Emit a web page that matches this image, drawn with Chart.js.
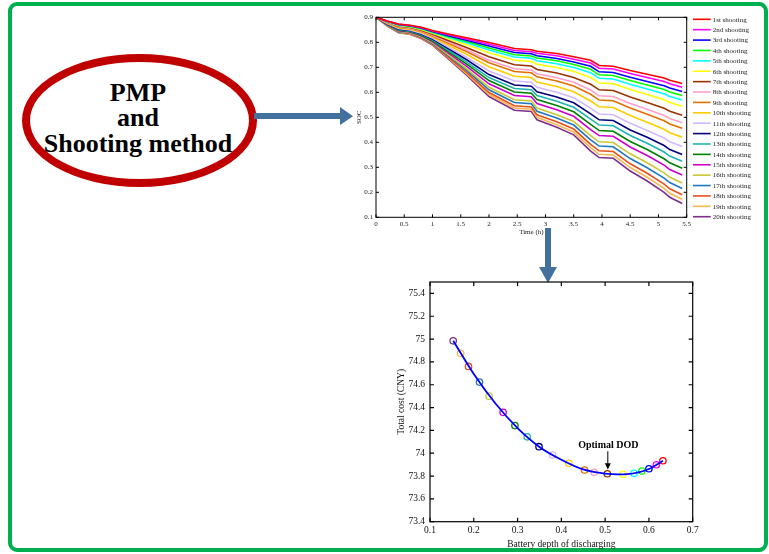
<!DOCTYPE html>
<html><head><meta charset="utf-8">
<script src="https://cdn.jsdelivr.net/npm/chart.js@4/dist/chart.umd.min.js"></script>
<style>
html,body{margin:0;padding:0;background:#fff;width:769px;height:554px;overflow:hidden;position:relative;font-family:'Liberation Serif',serif;}
#frame{position:absolute;left:8px;top:2px;width:760px;height:550px;box-sizing:border-box;border:4px solid #00b050;border-radius:9px;}
#ell{position:absolute;left:22px;top:54px;width:235px;height:133px;box-sizing:border-box;border:8px solid #c00000;border-radius:50%;}
#elltext{position:absolute;left:20px;width:236px;top:79.5px;text-align:center;font:bold 26px/25.5px 'Liberation Serif',serif;color:#000;}
#c1{position:absolute;left:340px;top:5px;}
#c2{position:absolute;left:380px;top:270px;}
svg{position:absolute;left:0;top:0;}
</style></head>
<body>
<div id="frame"></div>
<div id="ell"></div>
<div id="elltext">PMP<br>and<br>Shooting method</div>
<svg width="769" height="554">
  <polygon points="254,113 340,113 340,107 353,116.3 340,125 340,119 254,119" fill="#41719c"/>
  <polygon points="545,228 551,228 551,267 557,267 548,283 539,267 545,267" fill="#41719c"/>
</svg>
<canvas id="c1" width="429" height="240"></canvas>
<canvas id="c2" width="330" height="280"></canvas>
<script>
// ---------- Top chart data: SOC vs time for 20 shootings ----------
const timeH = [0, 0.2, 0.4, 0.6, 0.8, 1.0, 1.3, 1.6, 2.0, 2.45, 2.75, 2.85, 3.2, 3.5, 3.8, 3.95, 4.2, 4.5, 4.8, 5.1, 5.2, 5.42];
const shootingNames = ['1st shooting','2nd shooting','3rd shooting','4th shooting','5th shooting','6th shooting','7th shooting','8th shooting','9th shooting','10th shooting','11th shooting','12th shooting','13th shooting','14th shooting','15th shooting','16th shooting','17th shooting','18th shooting','19th shooting','20th shooting'];
const shootingColors = ['#ff0000','#ff00ff','#0000ff','#00ff00','#00ffff','#ffff00','#993300','#ff9fc8','#e07000','#ffcc00','#d4b8ff','#000080','#1fb3b3','#008000','#cc00cc','#c8c832','#1f77c0','#e8501a','#f5b850','#7e2f8e'];
const soc1  = [0.900,0.885,0.873,0.868,0.860,0.847,0.832,0.818,0.799,0.775,0.770,0.764,0.755,0.742,0.728,0.707,0.704,0.687,0.672,0.657,0.648,0.635];
const soc2  = [0.900,0.884,0.872,0.867,0.859,0.845,0.829,0.813,0.792,0.767,0.762,0.756,0.746,0.732,0.717,0.696,0.693,0.675,0.659,0.643,0.634,0.620];
const soc3  = [0.900,0.884,0.871,0.866,0.857,0.843,0.825,0.808,0.785,0.759,0.754,0.746,0.735,0.721,0.704,0.682,0.679,0.660,0.643,0.626,0.617,0.603];
const soc4  = [0.900,0.883,0.870,0.864,0.856,0.841,0.822,0.803,0.777,0.750,0.745,0.737,0.726,0.711,0.692,0.670,0.667,0.647,0.629,0.611,0.601,0.587];
const soc5  = [0.900,0.882,0.868,0.863,0.854,0.839,0.818,0.798,0.769,0.741,0.736,0.726,0.714,0.699,0.678,0.656,0.653,0.632,0.613,0.594,0.583,0.569];
const soc6  = [0.900,0.881,0.866,0.861,0.851,0.836,0.813,0.790,0.758,0.728,0.723,0.712,0.699,0.683,0.659,0.637,0.634,0.611,0.591,0.570,0.559,0.544];
const soc7  = [0.900,0.880,0.864,0.859,0.848,0.832,0.805,0.779,0.742,0.710,0.705,0.691,0.677,0.659,0.632,0.610,0.607,0.581,0.559,0.536,0.524,0.508];
const soc8  = [0.900,0.878,0.862,0.856,0.845,0.828,0.799,0.770,0.728,0.694,0.689,0.674,0.658,0.640,0.609,0.586,0.583,0.555,0.532,0.507,0.495,0.478];
const soc9  = [0.900,0.878,0.860,0.855,0.843,0.825,0.794,0.763,0.718,0.683,0.678,0.662,0.645,0.625,0.592,0.569,0.566,0.537,0.512,0.486,0.473,0.456];
const soc10 = [0.900,0.876,0.857,0.852,0.840,0.821,0.786,0.752,0.702,0.664,0.659,0.641,0.623,0.602,0.565,0.542,0.539,0.507,0.480,0.452,0.438,0.420];
const soc11 = [0.900,0.875,0.855,0.849,0.836,0.817,0.778,0.740,0.685,0.645,0.640,0.620,0.600,0.578,0.537,0.513,0.510,0.476,0.447,0.417,0.402,0.383];
const soc12 = [0.900,0.873,0.852,0.847,0.833,0.813,0.772,0.731,0.671,0.629,0.624,0.602,0.581,0.558,0.514,0.490,0.487,0.449,0.420,0.387,0.371,0.351];
const soc13 = [0.900,0.872,0.850,0.845,0.831,0.810,0.766,0.722,0.659,0.615,0.610,0.587,0.564,0.540,0.493,0.469,0.466,0.427,0.396,0.361,0.345,0.324];
const soc14 = [0.900,0.871,0.848,0.843,0.828,0.806,0.760,0.714,0.647,0.601,0.596,0.571,0.547,0.522,0.472,0.447,0.444,0.403,0.371,0.334,0.318,0.296];
const soc15 = [0.900,0.870,0.846,0.841,0.826,0.803,0.754,0.705,0.634,0.587,0.582,0.555,0.530,0.504,0.451,0.427,0.424,0.381,0.347,0.309,0.291,0.269];
const soc16 = [0.900,0.868,0.844,0.838,0.823,0.799,0.747,0.695,0.620,0.570,0.565,0.537,0.510,0.483,0.427,0.402,0.399,0.354,0.318,0.278,0.260,0.237];
const soc17 = [0.900,0.868,0.842,0.837,0.821,0.796,0.743,0.689,0.610,0.559,0.554,0.524,0.497,0.469,0.410,0.385,0.382,0.335,0.298,0.257,0.239,0.215];
const soc18 = [0.900,0.867,0.841,0.835,0.818,0.793,0.737,0.681,0.599,0.546,0.541,0.510,0.482,0.453,0.392,0.366,0.363,0.314,0.276,0.233,0.214,0.190];
const soc19 = [0.900,0.866,0.839,0.833,0.817,0.791,0.734,0.675,0.591,0.537,0.532,0.500,0.470,0.441,0.378,0.352,0.349,0.299,0.260,0.216,0.196,0.172];
const soc20 = [0.900,0.865,0.838,0.832,0.815,0.789,0.730,0.670,0.583,0.528,0.523,0.490,0.460,0.430,0.365,0.339,0.336,0.285,0.245,0.200,0.180,0.155];
const socSeries = [soc1,soc2,soc3,soc4,soc5,soc6,soc7,soc8,soc9,soc10,soc11,soc12,soc13,soc14,soc15,soc16,soc17,soc18,soc19,soc20];
const timeTicks = [0,0.5,1,1.5,2,2.5,3,3.5,4,4.5,5,5.5];
const socTicks = [0.1,0.2,0.3,0.4,0.5,0.6,0.7,0.8,0.9];

// ---------- Bottom chart data: total cost vs DOD ----------
const dodValues  = [0.632,0.617,0.600,0.584,0.566,0.541,0.505,0.475,0.453,0.417,0.380,0.349,0.322,0.294,0.267,0.235,0.213,0.188,0.170,0.153];
const costValues = [73.934,73.899,73.864,73.844,73.824,73.815,73.820,73.833,73.853,73.911,73.984,74.057,74.144,74.242,74.358,74.500,74.623,74.760,74.875,74.985];
const fitDod  = [0.153,0.2,0.25,0.3,0.35,0.4,0.45,0.5,0.53,0.55,0.6,0.632];
const fitCost = [74.985,74.694,74.433,74.220,74.055,73.943,73.858,73.822,73.815,73.817,73.862,73.934];
const optimalIndex = 6;
const dodTicks = [0.1,0.2,0.3,0.4,0.5,0.6,0.7];
const costTicks = [73.4,73.6,73.8,74,74.2,74.4,74.6,74.8,75,75.2,75.4];

const FF = "'Liberation Serif', 'Times New Roman', serif";
const fmt = v => String(Number(Number(v).toFixed(2)));

const boxPlugin = {
  id: 'box',
  afterDatasetsDraw(chart, args, opts) {
    const {ctx, chartArea: a, scales: {x, y}} = chart;
    const L = opts.tick || 3;
    ctx.save();
    ctx.strokeStyle = '#000';
    ctx.lineWidth = opts.lw || 1;
    ctx.strokeRect(a.left, a.top, a.right - a.left, a.bottom - a.top);
    ctx.beginPath();
    x.ticks.forEach(t => { const p = x.getPixelForValue(t.value);
      ctx.moveTo(p, a.bottom); ctx.lineTo(p, a.bottom - L);
      ctx.moveTo(p, a.top); ctx.lineTo(p, a.top + L); });
    y.ticks.forEach(t => { const p = y.getPixelForValue(t.value);
      ctx.moveTo(a.left, p); ctx.lineTo(a.left + L, p);
      ctx.moveTo(a.right, p); ctx.lineTo(a.right - L, p); });
    ctx.stroke();
    ctx.restore();
  }
};

const legendPlugin = {
  id: 'sideLegend',
  afterDraw(chart) {
    const {ctx, chartArea: a} = chart;
    ctx.save();
    ctx.font = '7px ' + FF;
    ctx.textBaseline = 'middle';
    ctx.textAlign = 'left';
    chart.data.datasets.forEach((ds, i) => {
      const yy = a.top + 2 + i * 10.39;
      ctx.strokeStyle = ds.borderColor;
      ctx.lineWidth = 1.6;
      ctx.beginPath(); ctx.moveTo(a.right + 6.3, yy); ctx.lineTo(a.right + 24, yy); ctx.stroke();
      ctx.fillStyle = '#222';
      ctx.fillText(ds.label, a.right + 26, yy + 0.5);
    });
    ctx.restore();
  }
};

const optimalPlugin = {
  id: 'optimal',
  afterDatasetsDraw(chart) {
    const {ctx, scales: {x, y}} = chart;
    const px = x.getPixelForValue(dodValues[optimalIndex]);
    const py = y.getPixelForValue(costValues[optimalIndex]);
    ctx.save();
    ctx.fillStyle = '#000';
    ctx.strokeStyle = '#000';
    ctx.font = 'bold 10px ' + FF;
    ctx.textAlign = 'center';
    ctx.textBaseline = 'middle';
    ctx.fillText('Optimal DOD', px + 1, py - 28);
    ctx.lineWidth = 1;
    ctx.beginPath(); ctx.moveTo(px + 0.5, py - 22.5); ctx.lineTo(px + 0.5, py - 9); ctx.stroke();
    ctx.beginPath(); ctx.moveTo(px - 2.5, py - 10.5); ctx.lineTo(px + 3.5, py - 10.5); ctx.lineTo(px + 0.5, py - 4.3); ctx.closePath(); ctx.fill();
    ctx.restore();
  }
};

// ---------- Top chart ----------
new Chart(document.getElementById('c1'), {
  type: 'line',
  data: {
    datasets: socSeries.map((s, i) => ({
      label: shootingNames[i],
      data: s.map((v, j) => ({x: timeH[j], y: v})),
      borderColor: shootingColors[i],
      borderWidth: 1.6,
      pointRadius: 0,
      tension: 0,
      fill: false
    }))
  },
  options: {
    responsive: false, animation: false, events: [],
    layout: {padding: {left: 0, top: 12.3, right: 82.3, bottom: 0}},
    plugins: {legend: {display: false}, tooltip: {enabled: false}, box: {tick: 3, lw: 1}},
    scales: {
      x: {
        type: 'linear', min: 0, max: 5.5,
        afterBuildTicks: s => { s.ticks = timeTicks.map(v => ({value: v})); },
        afterFit: s => { s.height = 27.7; },
        grid: {display: false, drawTicks: false}, border: {display: false},
        ticks: {font: {family: FF, size: 7}, color: '#222', padding: 3, maxRotation: 0, autoSkip: false, callback: v => fmt(v)},
        title: {display: true, text: 'Time (h)', font: {family: FF, size: 7}, color: '#222', padding: {top: 0, bottom: 8.8}}
      },
      y: {
        type: 'linear', min: 0.1, max: 0.9,
        afterBuildTicks: s => { s.ticks = socTicks.map(v => ({value: v})); },
        afterFit: s => { s.width = 36; },
        grid: {display: false, drawTicks: false}, border: {display: false},
        ticks: {font: {family: FF, size: 7}, color: '#222', padding: 3, autoSkip: false, callback: v => fmt(v)},
        title: {display: true, text: 'SOC', font: {family: FF, size: 7}, color: '#222', padding: {top: 14.8, bottom: 0}}
      }
    }
  },
  plugins: [boxPlugin, legendPlugin]
});

// ---------- Bottom chart ----------
new Chart(document.getElementById('c2'), {
  type: 'scatter',
  data: {
    datasets: [
      {
        label: 'fit',
        data: fitDod.map((v, j) => ({x: v, y: fitCost[j]})),
        showLine: true, borderColor: '#0000ff', borderWidth: 1.8,
        pointRadius: 0, cubicInterpolationMode: 'monotone', fill: false
      },
      {
        label: 'shootings',
        data: dodValues.map((v, j) => ({x: v, y: costValues[j]})),
        showLine: false,
        pointRadius: 3.2, pointBorderWidth: 1.3,
        pointBorderColor: shootingColors,
        pointBackgroundColor: 'rgba(255,255,255,0)'
      }
    ]
  },
  options: {
    responsive: false, animation: false, events: [],
    layout: {padding: {left: 0, top: 12, right: 17.3, bottom: 0}},
    plugins: {legend: {display: false}, tooltip: {enabled: false}, box: {tick: 4, lw: 1.2}},
    scales: {
      x: {
        type: 'linear', min: 0.1, max: 0.7,
        afterBuildTicks: s => { s.ticks = dodTicks.map(v => ({value: v})); },
        afterFit: s => { s.height = 28.3; },
        grid: {display: false, drawTicks: false}, border: {display: false},
        ticks: {font: {family: FF, size: 9.5}, color: '#111', padding: 3, maxRotation: 0, autoSkip: false, callback: v => fmt(v)},
        title: {display: true, text: 'Battery depth of discharging', font: {family: FF, size: 9.5}, color: '#111', padding: {top: 0, bottom: 0.3}}
      },
      y: {
        type: 'linear', min: 73.4, max: 75.5,
        afterBuildTicks: s => { s.ticks = costTicks.map(v => ({value: v})); },
        afterFit: s => { s.width = 50; },
        grid: {display: false, drawTicks: false}, border: {display: false},
        ticks: {font: {family: FF, size: 9.5}, color: '#111', padding: 5, autoSkip: false, callback: v => fmt(v)},
        title: {display: true, text: 'Total cost (CNY)', font: {family: FF, size: 9.5}, color: '#111', padding: {top: 15.8, bottom: 0}}
      }
    }
  },
  plugins: [boxPlugin, optimalPlugin]
});
</script>
</body></html>
